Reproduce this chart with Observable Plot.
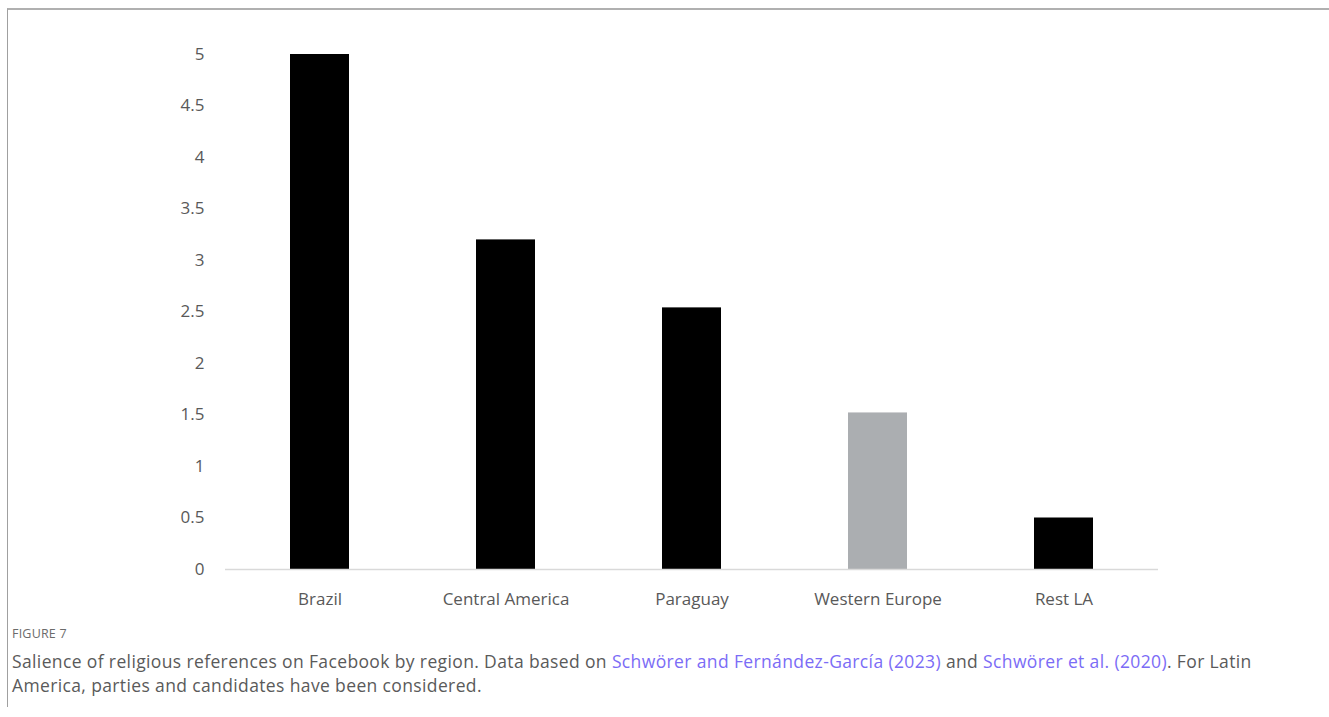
<!DOCTYPE html>
<html>
<head>
<meta charset="utf-8">
<script src="https://cdn.jsdelivr.net/npm/d3@7"></script>
<script src="https://cdn.jsdelivr.net/npm/@observablehq/plot@0.6"></script>
<style>
  html, body { margin: 0; padding: 0; background: #fff; }
  #wrap { position: relative; width: 1329px; height: 717px; overflow: hidden; }
  #frame { position: absolute; left: 7px; top: 8px; width: 1322px; height: 699px;
           border-top: 2px solid #b0b0b0; border-left: 1px solid #a0a0a0; box-sizing: border-box; }
  #chart { position: absolute; left: 0; top: 0; }
  #figlabel { position: absolute; left: 12px; top: 625px; font-family: "Open Sans", sans-serif;
              font-size: 12.5px; color: #6b6b6b; letter-spacing: 0.2px; }
  #caption { position: absolute; left: 12px; top: 649px; width: 1310px; font-family: "Open Sans", sans-serif;
             font-size: 17.5px; line-height: 24px; color: #5a5a5a; letter-spacing: 0.37px; white-space: nowrap; }
  #caption span.ref { color: #7b6cf6; }
</style>
</head>
<body>
<div id="wrap">
  <div id="frame"></div>
  <div id="chart"></div>
  <div id="figlabel">FIGURE 7</div>
  <div id="caption">Salience of religious references on Facebook by region. Data based on <span class="ref">Schwörer and Fernández-García (2023)</span> and <span class="ref">Schwörer et al. (2020)</span>. For Latin<br>America, parties and candidates have been considered.</div>
</div>
<script>
const regions = ["Brazil", "Central America", "Paraguay", "Western Europe", "Rest LA"];
const salience = [5.0, 3.2, 2.54, 1.52, 0.5];
const barColors = ["#000000", "#000000", "#000000", "#abaeb1", "#000000"];
const yTicks = [0, 0.5, 1, 1.5, 2, 2.5, 3, 3.5, 4, 4.5, 5];

const data = regions.map((r, i) => ({region: r, value: salience[i], color: barColors[i]}));

const chart = Plot.plot({
  width: 1329,
  height: 615,
  marginTop: 54,
  marginBottom: 46,
  marginLeft: 225,
  marginRight: 171,
  style: {fontFamily: "'Open Sans', sans-serif", background: "transparent"},
  x: {domain: regions, paddingInner: 0.684, paddingOuter: 0.342, label: null, tickSize: 0, tickPadding: 23},
  y: {domain: [0, 5], ticks: yTicks, tickFormat: d => String(d), label: null, tickSize: 0, tickPadding: 21},
  marks: [
    Plot.barY(data, {x: "region", y: "value", fill: "color"}),
    Plot.ruleY([0], {stroke: "#d9d9d9", strokeWidth: 1.5})
  ]
});
chart.querySelectorAll("g[aria-label='y-axis tick label'], g[aria-label='x-axis tick label']").forEach(g => {
  g.setAttribute("font-size", "17");
  g.setAttribute("fill", "#595959");
});
document.getElementById("chart").appendChild(chart);
</script>
</body>
</html>
